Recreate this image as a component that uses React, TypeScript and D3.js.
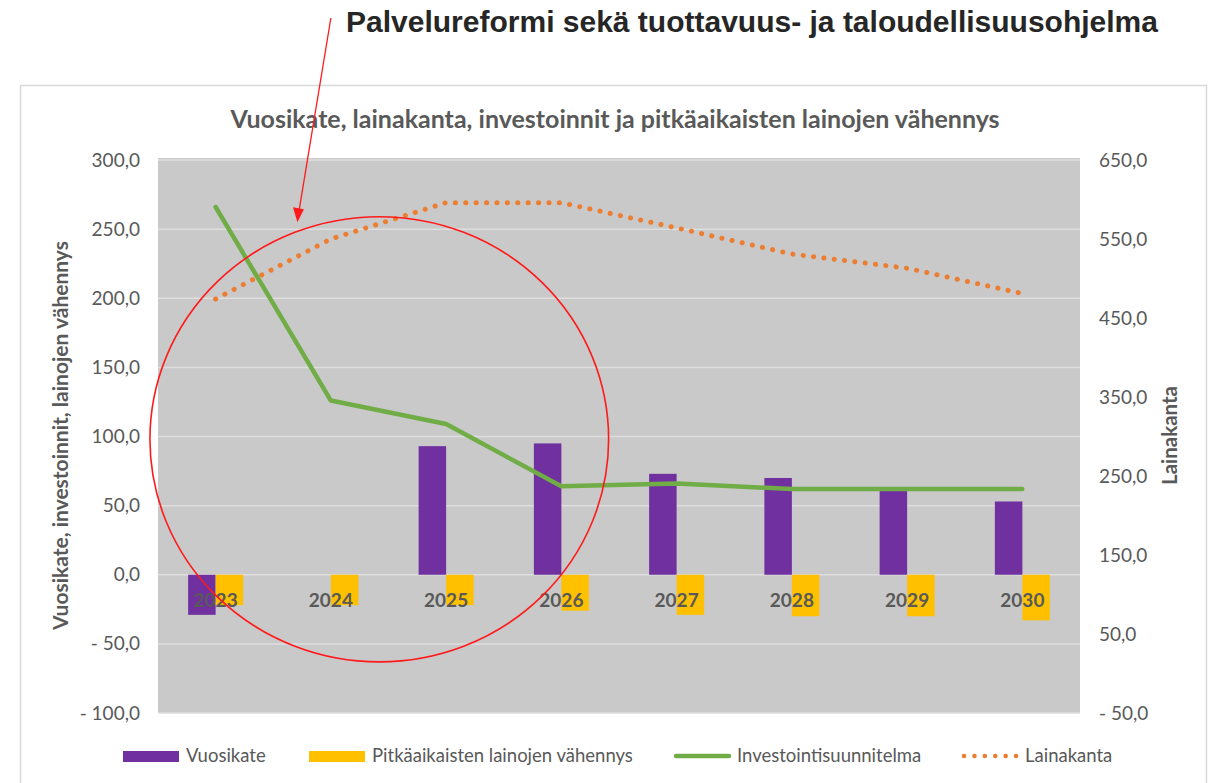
import React, { useEffect, useRef } from 'react'
import * as d3 from 'd3'

// values
const years = ['2023', '2024', '2025', '2026', '2027', '2028', '2029', '2030']
const vuosikate = [-29, 0, 93, 95, 73, 70, 62, 53]
const lainojenVahennys = [-22, -22, -22, -26, -29, -30, -30, -33]
const investointisuunnitelma = [266, 126, 109, 64, 66, 62, 62, 62]
const lainakanta = [474, 550, 596, 596, 564, 531, 513, 481]
const leftTicks = [-100, -50, 0, 50, 100, 150, 200, 250, 300]
const rightTicks = [-50, 50, 150, 250, 350, 450, 550, 650]

const pageTitle = 'Palvelureformi sekä tuottavuus- ja taloudellisuusohjelma'
const chartTitle = 'Vuosikate, lainakanta, investoinnit ja pitkäaikaisten lainojen vähennys'
const leftAxisTitle = 'Vuosikate, investoinnit, lainojen vähennys'
const rightAxisTitle = 'Lainakanta'

const legendLabels = ['Vuosikate', 'Pitkäaikaisten lainojen vähennys', 'Investointisuunnitelma', 'Lainakanta']

const FONT = 'Lato, "Open Sans", sans-serif'
const GREY_TEXT = '#595959'
const PURPLE = '#7030a0'
const YELLOW = '#ffc000'
const GREEN = '#70ad47'
const ORANGE = '#ed7d31'

const fmt = (v: number) => {
  const s = d3.format('.1f')(Math.abs(v)).replace('.', ',')
  return v < 0 ? `- ${s}` : s
}

export default function App() {
  const svgRef = useRef<SVGSVGElement | null>(null)

  useEffect(() => {
    if (!svgRef.current) return
    const width = 1209
    const height = 783
    const svg = d3.select(svgRef.current)
    svg.selectAll('*').remove()
    svg.attr('width', width).attr('height', height)

    const left = 158, right = 1080, top = 160, bottom = 713

    // outer chart box
    svg.append('rect')
      .attr('x', 20.5).attr('y', 85.5)
      .attr('width', 1186).attr('height', 760)
      .attr('fill', '#fff').attr('stroke', '#d9d9d9').attr('stroke-width', 1.5)

    // page heading
    svg.append('text')
      .attr('x', 752).attr('y', 32)
      .attr('text-anchor', 'middle')
      .style('font-family', '"Liberation Sans", Arial, sans-serif')
      .style('font-weight', 700)
      .style('font-size', '30px')
      .attr('fill', '#262626')
      .text(pageTitle)

    // chart title
    svg.append('text')
      .attr('x', 615).attr('y', 128)
      .attr('text-anchor', 'middle')
      .style('font-family', FONT)
      .style('font-size', '25px')
      .style('font-weight', 700)
      .attr('fill', GREY_TEXT)
      .text(chartTitle)

    // scales
    const x0 = d3.scaleBand().domain(years).range([left, right])
    const bw = x0.bandwidth()
    const x1 = d3.scaleBand().domain(['v', 'p']).range([bw / 2 - 27.5, bw / 2 + 27.5])
    const xc = (yr: string) => (x0(yr) as number) + bw / 2
    const yL = d3.scaleLinear().domain([-100, 300]).range([bottom, top])
    const yR = d3.scaleLinear().domain([-50, 650]).range([bottom, top])

    // plot background + grid
    svg.append('rect')
      .attr('x', left).attr('y', top - 2)
      .attr('width', right - left).attr('height', bottom - top + 2)
      .attr('fill', '#c9c9c9')

    svg.append('g')
      .selectAll('line')
      .data(leftTicks)
      .enter()
      .append('line')
      .attr('x1', left).attr('x2', right)
      .attr('y1', d => yL(d)).attr('y2', d => yL(d))
      .attr('stroke', '#dedede').attr('stroke-width', 1.5)

    // bars
    const bars = svg.append('g')
    bars.selectAll('rect.v')
      .data(years)
      .enter()
      .append('rect')
      .attr('class', 'v')
      .attr('x', d => (x0(d) as number) + (x1('v') as number))
      .attr('width', x1.bandwidth())
      .attr('y', (d, i) => yL(Math.max(0, vuosikate[i])))
      .attr('height', (d, i) => Math.abs(yL(vuosikate[i]) - yL(0)))
      .attr('fill', PURPLE)

    bars.selectAll('rect.p')
      .data(years)
      .enter()
      .append('rect')
      .attr('class', 'p')
      .attr('x', d => (x0(d) as number) + (x1('p') as number))
      .attr('width', x1.bandwidth())
      .attr('y', (d, i) => yL(Math.max(0, lainojenVahennys[i])))
      .attr('height', (d, i) => Math.abs(yL(lainojenVahennys[i]) - yL(0)))
      .attr('fill', YELLOW)

    // left axis
    const gl = svg.append('g')
      .attr('transform', `translate(${left}, 0)`)
      .call(d3.axisLeft(yL).tickValues(leftTicks).tickFormat(d => fmt(+d)).tickSize(0).tickPadding(18))
    gl.select('.domain').remove()
    gl.selectAll('text')
      .style('font-family', FONT).style('font-size', '19px').attr('fill', GREY_TEXT)

    // right axis
    const gr = svg.append('g')
      .attr('transform', `translate(${right}, 0)`)
      .call(d3.axisRight(yR).tickValues(rightTicks).tickFormat(d => fmt(+d)).tickSize(0).tickPadding(19))
    gr.select('.domain').remove()
    gr.selectAll('text')
      .style('font-family', FONT).style('font-size', '19px').attr('fill', GREY_TEXT)

    // category labels at zero line
    const gx = svg.append('g')
      .attr('transform', `translate(0, ${yL(0)})`)
      .call(d3.axisBottom(x0).tickSize(0).tickPadding(19))
    gx.select('.domain').remove()
    gx.selectAll('text')
      .style('font-family', FONT).style('font-size', '19px').style('font-weight', 700)
      .attr('fill', GREY_TEXT)

    // axis titles
    svg.append('text')
      .attr('transform', `translate(68, ${(top + bottom) / 2 - 1}) rotate(-90)`)
      .attr('text-anchor', 'middle')
      .style('font-family', FONT).style('font-size', '21px').style('font-weight', 700)
      .attr('fill', GREY_TEXT)
      .text(leftAxisTitle)

    svg.append('text')
      .attr('transform', `translate(1177, ${(top + bottom) / 2 - 1}) rotate(-90)`)
      .attr('text-anchor', 'middle')
      .style('font-family', FONT).style('font-size', '20.5px').style('font-weight', 700)
      .attr('fill', GREY_TEXT)
      .text(rightAxisTitle)

    // lines
    const lineL = d3.line<number>().x((d, i) => xc(years[i])).y(d => yL(d))
    const lineR = d3.line<number>().x((d, i) => xc(years[i])).y(d => yR(d))

    svg.append('path')
      .datum(investointisuunnitelma)
      .attr('d', lineL)
      .attr('fill', 'none').attr('stroke', GREEN).attr('stroke-width', 4.5)
      .attr('stroke-linecap', 'round').attr('stroke-linejoin', 'round')

    svg.append('path')
      .datum(lainakanta)
      .attr('d', lineR)
      .attr('fill', 'none').attr('stroke', ORANGE).attr('stroke-width', 5)
      .attr('stroke-linecap', 'round').attr('stroke-dasharray', '0.1 10.3')

    // legend
    const ly = 756
    const legendX = [123, 309, 674, 962]
    const lg = svg.append('g')
    legendLabels.forEach((label, i) => {
      const lx = legendX[i]
      if (i < 2) {
        lg.append('rect')
          .attr('x', lx).attr('y', ly - 5).attr('width', 56).attr('height', 11)
          .attr('fill', i === 0 ? PURPLE : YELLOW)
      } else {
        lg.append('line')
          .attr('x1', lx + 2).attr('x2', lx + 55).attr('y1', ly).attr('y2', ly)
          .attr('stroke', i === 2 ? GREEN : ORANGE)
          .attr('stroke-width', 4.5)
          .attr('stroke-linecap', 'round')
          .attr('stroke-dasharray', i === 2 ? null : '0.1 10.3')
      }
      lg.append('text')
        .attr('x', lx + 63).attr('y', ly + 6)
        .style('font-family', FONT).style('font-size', '18.5px')
        .attr('fill', GREY_TEXT)
        .text(label)
    })

    // red annotation: circle round 2023-2026 and arrow from the heading
    const step = bw
    const ann = svg.append('g')
    ann.append('ellipse')
      .attr('cx', xc('2024') + 0.42 * step)
      .attr('cy', yL(98))
      .attr('rx', 1.99 * step)
      .attr('ry', yL(0) - yL(161))
      .attr('fill', 'none').attr('stroke', '#ff1a1a').attr('stroke-width', 1.6)

    const tipX = xc('2023') + 0.71 * step
    const tipY = yL(255)
    ann.append('line')
      .attr('x1', xc('2024')).attr('y1', 18)
      .attr('x2', tipX + 1.7).attr('y2', tipY - 12)
      .attr('stroke', '#ff1a1a').attr('stroke-width', 1.3)
    ann.append('path')
      .attr('d', `M${tipX},${tipY} L${tipX - 4.5},${tipY - 15} L${tipX + 6.5},${tipY - 13} Z`)
      .attr('fill', '#ff1a1a')
  }, [])

  return (
    <svg ref={svgRef} style={{ position: 'absolute', left: 0, top: 0, display: 'block' }}></svg>
  )
}
